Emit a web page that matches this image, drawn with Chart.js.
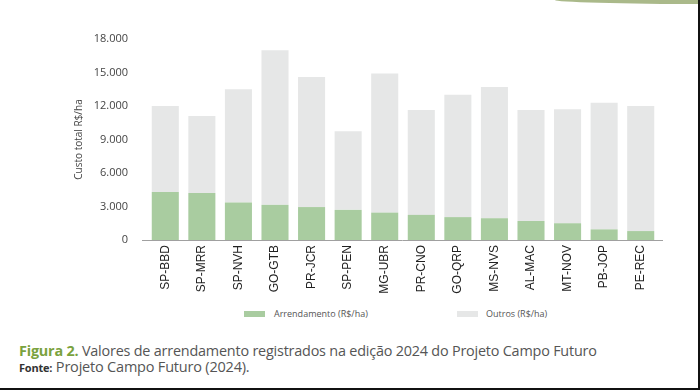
<!DOCTYPE html>
<html>
<head>
<meta charset="utf-8">
<script src="https://cdn.jsdelivr.net/npm/chart.js@4.4.1/dist/chart.umd.min.js"></script>
<style>
  html, body { margin: 0; padding: 0; background: #fff; }
  #frame { position: relative; width: 700px; height: 390px; box-sizing: border-box;
           border-right: 2px solid #111; border-bottom: 2px solid #111; overflow: hidden; }
  #swoosh { position: absolute; top: 0; left: 555px; width: 150px; height: 4px;
            background: #aab98a; border-bottom-left-radius: 100% 100%; }
  #wrap { position: absolute; left: 0; top: 0; width: 700px; height: 300px; }
  .leg { position: absolute; top: 307px; font: 9px "Open Sans", sans-serif; color: #555; }
  .leg span.box { position: absolute; top: 4px; width: 21px; height: 6px; }
  .leg span.txt { position: absolute; white-space: nowrap; }
  #caption { position: absolute; left: 19px; top: 341px; font: 14.4px "Open Sans", sans-serif;
             color: #555; letter-spacing: -0.2px; white-space: nowrap; }
  #caption b { color: #7aa23e; font-weight: 700; }
  #source { position: absolute; left: 19px; top: 357px; font: 14.5px "Open Sans", sans-serif;
            color: #555; letter-spacing: -0.2px; white-space: nowrap; }
  #source b { font-size: 11px; color: #333; font-weight: 700; }
</style>
</head>
<body>
<div id="frame">
  <div id="swoosh"></div>
  <div id="wrap"><canvas id="chart"></canvas></div>
  <div id="legend"></div>
  <div id="caption"><b>Figura 2.</b> Valores de arrendamento registrados na edição 2024 do Projeto Campo Futuro</div>
  <div id="source"><b>Fonte:</b> Projeto Campo Futuro (2024).</div>
</div>
<script>
var regions = ['SP-BBD', 'SP-MRR', 'SP-NVH', 'GO-GTB', 'PR-JCR', 'SP-PEN', 'MG-UBR',
               'PR-CNO', 'GO-QRP', 'MS-NVS', 'AL-MAC', 'MT-NOV', 'PB-JOP', 'PE-REC'];
var arrendamento = [4300, 4200, 3350, 3150, 2950, 2700, 2450, 2250, 2050, 1950, 1700, 1500, 950, 800];
var outros = [7700, 6900, 10150, 13850, 11650, 7050, 12450, 9400, 10950, 11750, 9950, 10200, 11350, 11200];
var yTicks = [0, 3000, 6000, 9000, 12000, 15000, 18000];

// axis line runs a bit past the first and last bar
var axisLine = {
    id: 'axisLine',
    afterDraw: function (chart) {
        var a = chart.chartArea, c = chart.ctx;
        c.save();
        c.strokeStyle = '#a0a0a0';
        c.lineWidth = 1;
        c.beginPath();
        c.moveTo(a.left - 5, a.bottom + 0.5);
        c.lineTo(a.right + 4, a.bottom + 0.5);
        c.stroke();
        c.restore();
    }
};

var ctx = document.getElementById('chart').getContext('2d');
var chart = new Chart(ctx, {
    type: 'bar',
    data: {
        labels: regions,
        datasets: [{
            label: 'Arrendamento (R$/ha)',
            data: arrendamento,
            backgroundColor: '#a9cca0',
            barPercentage: 0.74,
            categoryPercentage: 1.0
        },
        {
            label: 'Outros (R$/ha)',
            data: outros,
            backgroundColor: '#e6e7e7',
            barPercentage: 0.74,
            categoryPercentage: 1.0
        }]
    },
    options: {
        responsive: true,
        maintainAspectRatio: false,
        animation: false,
        layout: {
            padding: { left: 66, right: 41, top: 39, bottom: 0 }
        },
        plugins: {
            legend: { display: false },
            tooltip: { enabled: false }
        },
        scales: {
            x: {
                stacked: true,
                grid: { display: false, drawTicks: false },
                border: { display: false },
                ticks: {
                    minRotation: 90,
                    maxRotation: 90,
                    padding: 5,
                    color: '#222',
                    font: { family: 'Liberation Sans', size: 12 }
                },
                afterFit: function (scale) { scale.height = 60; }
            },
            y: {
                stacked: true,
                min: 0,
                max: 18000,
                grid: { display: false, drawTicks: false },
                border: { display: false },
                afterBuildTicks: function (scale) {
                    scale.ticks = yTicks.map(function (v) { return { value: v }; });
                },
                ticks: {
                    padding: 19,
                    color: '#444',
                    font: { family: 'Open Sans', size: 11 },
                    callback: function (v) { return v.toLocaleString('pt-BR'); }
                },
                title: {
                    display: true,
                    text: 'Custo total R$/ha',
                    color: '#444',
                    font: { family: 'Open Sans', size: 10 },
                    padding: { top: 7, bottom: 0 }
                },
                afterFit: function (scale) { scale.width = 81; }
            }
        }
    },
    plugins: [axisLine]
});

// legend in html, built from the datasets
var legendPos = [{ box: 244, txt: 274 }, { box: 457, txt: 486 }];
var legendEl = document.getElementById('legend');
chart.data.datasets.forEach(function (ds, i) {
    var item = document.createElement('div');
    item.className = 'leg';
    item.innerHTML = '<span class="box" style="left:' + legendPos[i].box + 'px;background:' + ds.backgroundColor + '"></span>' +
        '<span class="txt" style="left:' + legendPos[i].txt + 'px">' + ds.label + '</span>';
    legendEl.appendChild(item);
});
</script>
</body>
</html>
